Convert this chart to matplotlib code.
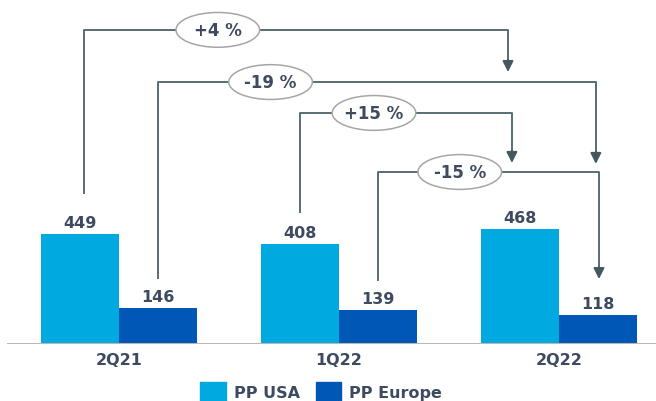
import matplotlib.pyplot as plt
from matplotlib.patches import Ellipse, Patch
import numpy as np

quarters = ['2Q21', '1Q22', '2Q22']
pp_usa = [449, 408, 468]
pp_europe = [146, 139, 118]

# change bubbles: (label, start group, start side, end group, end side, start y, top y, tip y, bubble x)
changes = [
    ('+4 %', 0, -0.9, 2, -1.3, 616, 1282, 1110, 0.45),
    ('-19 %', 0, 1, 2, 0.95, 269, 1069, 735, 0.69),
    ('+15 %', 1, -1, 2, -1.2, 539, 943, 739, 1.16),
    ('-15 %', 1, 1, 2, 1.03, 261, 702, 265, 1.55),
]

c_usa = '#00a9e0'
c_eu = '#0057b5'
c_text = '#3d4a60'
c_line = '#586c75'

fig = plt.figure(figsize=(6.56, 4.02), dpi=100)
ax = fig.add_axes([0, 57 / 402, 1, 345 / 402])
ax.set_xlim(-0.54, 2.442)
ax.set_ylim(0, 1408)
for s in ax.spines.values():
    s.set_visible(False)
ax.set_yticks([])

x = np.arange(len(quarters))
w = 0.355
b1 = ax.bar(x - w / 2, pp_usa, w, color=c_usa, label='PP USA')
b2 = ax.bar(x + w / 2, pp_europe, w, color=c_eu, label='PP Europe')
for bars, vals in ((b1, pp_usa), (b2, pp_europe)):
    for r, v in zip(bars, vals):
        ax.annotate(str(v), (r.get_x() + r.get_width() / 2, v), xytext=(0, 3),
                    textcoords='offset points', ha='center', va='bottom',
                    fontsize=11.5, fontweight='bold', color=c_text)

ax.axhline(0, xmin=8 / 656, xmax=1, color='#b8b8b8', lw=2.2, zorder=3)
ax.set_xticks(x)
ax.set_xticklabels(quarters, fontsize=11.5, fontweight='bold', color=c_text)
ax.tick_params(axis='x', length=0, pad=6)

for label, g0, s0, g1, s1, y0, ytop, ytip, bx in changes:
    x0 = g0 + s0 * w / 2
    x1 = g1 + s1 * w / 2
    head = 45
    ax.plot([x0, x0, x1, x1], [y0, ytop, ytop, ytip + head], color=c_line, lw=1.4, zorder=2)
    ax.annotate('', xy=(x1, ytip), xytext=(x1, ytip + head + 5),
                arrowprops=dict(arrowstyle='-|>', mutation_scale=16, color='#44585f',
                                lw=1.4, shrinkA=0, shrinkB=0), zorder=2)
    ax.add_patch(Ellipse((bx, ytop), 0.38, 142, facecolor='white',
                         edgecolor='#a6a6a6', lw=1.1, zorder=4))
    ax.text(bx, ytop, label, ha='center', va='center', fontsize=12,
            fontweight='bold', color=c_text, zorder=5)

handles = [Patch(color=c_usa, label='PP USA'), Patch(color=c_eu, label='PP Europe')]
leg = fig.legend(handles=handles, loc='center', bbox_to_anchor=(321 / 656, 1 - 393 / 402),
                 ncol=2, frameon=False, handlelength=1.6, handleheight=1.6,
                 handletextpad=0.5, columnspacing=1.0,
                 prop=dict(size=11.5, weight='bold'))
for t in leg.get_texts():
    t.set_color(c_text)

fig.savefig('out.png', dpi=100)
